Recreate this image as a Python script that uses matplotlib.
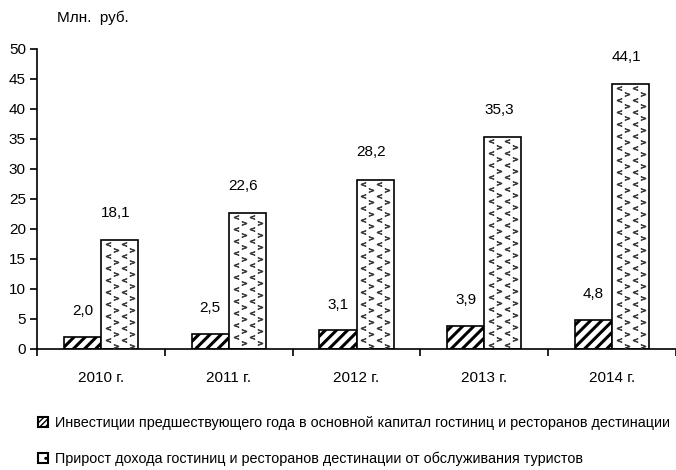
import numpy as np
import matplotlib as mpl
import matplotlib.pyplot as plt
from matplotlib.patches import Patch

years = ["2010 г.", "2011 г.", "2012 г.", "2013 г.", "2014 г."]
investicii = [2.0, 2.5, 3.1, 3.9, 4.8]
prirost = [18.1, 22.6, 28.2, 35.3, 44.1]
label_inv = "Инвестиции предшествующего года в основной капитал гостиниц и ресторанов дестинации"
label_pri = "Прирост дохода гостиниц и ресторанов дестинации от обслуживания туристов"

plt.rcParams['font.family'] = ['Liberation Sans', 'DejaVu Sans']
plt.rcParams['hatch.color'] = '#111111'

fig = plt.figure(figsize=(6.76, 4.70), dpi=100)
ax = fig.add_axes([37 / 676, 121 / 470, 1 - 37 / 676, 300 / 470])

x = np.arange(len(years))
w = 0.29

with mpl.rc_context({'hatch.linewidth': 2.2}):
    b1 = ax.bar(x - w / 2, investicii, w, facecolor='white', edgecolor='black',
                hatch='///', linewidth=1.2, zorder=2)
b2 = ax.bar(x + w / 2, prirost, w, facecolor='white', edgecolor='black',
            linewidth=1.2, zorder=2)

ax.set_ylim(0, 50)
ax.set_xlim(-0.5, 4.48)

# chevron fill pattern inside the second bars (spacing in pixels -> data units)
px_x = 1.0 / 128.6
px_y = 50.0 / 300
for bar in b2:
    x0, bw, h = bar.get_x(), bar.get_width(), bar.get_height()
    rows = np.arange(h - px_y * 4, px_y * 1.5, -px_y * 6)
    for k, yy in enumerate(rows):
        shift = 0 if k % 2 == 0 else 8
        cols = np.arange(x0 + px_x * (7 + shift), x0 + bw - px_x * 3, px_x * 16)
        m = '$<$' if k % 2 == 0 else '$>$'
        ax.plot(cols, np.full(len(cols), yy), ls='none', marker=m, ms=3.4,
                color='#3a3a3a', mew=0.6, zorder=3)

for xi, v in zip(x, investicii):
    ax.text(xi - w / 2, v + 4.3, f"{v:.1f}".replace('.', ','), ha='center', va='center', fontsize=11)
for xi, v in zip(x, prirost):
    ax.text(xi + w / 2 - 0.03, v + 4.6, f"{v:.1f}".replace('.', ','), ha='center', va='center', fontsize=11)

ax.set_yticks(range(0, 51, 5))
ax.set_xticks(np.arange(-0.5, 5, 1.0))
ax.set_xticklabels([])
ax.set_xticks(x, minor=True)
ax.set_xticklabels(years, minor=True)
ax.tick_params(axis='x', which='minor', length=0, pad=16, labelsize=11)
ax.tick_params(axis='x', which='major', length=5, width=1.2, direction='out')
ax.tick_params(axis='y', length=5, width=1.2, labelsize=11, pad=3)
for s in ['top', 'right']:
    ax.spines[s].set_visible(False)
for s in ['left', 'bottom']:
    ax.spines[s].set_linewidth(1.2)

fig.text(57 / 676, 1 - 18 / 470, "Млн.  руб.", ha='left', va='center', fontsize=11)

h1 = Patch(facecolor='white', edgecolor='black', hatch='//////', linewidth=1.5)
h2 = Patch(facecolor='white', edgecolor='black', hatch='..', linewidth=1.5)
fig.legend([h1, h2], [label_inv, label_pri], loc='lower left',
           bbox_to_anchor=(28 / 676, -0.014), frameon=False, fontsize=10.4,
           handlelength=0.7, handleheight=0.7, handletextpad=0.5,
           labelspacing=1.5, borderaxespad=0.3)

fig.savefig("out.png", dpi=100)
